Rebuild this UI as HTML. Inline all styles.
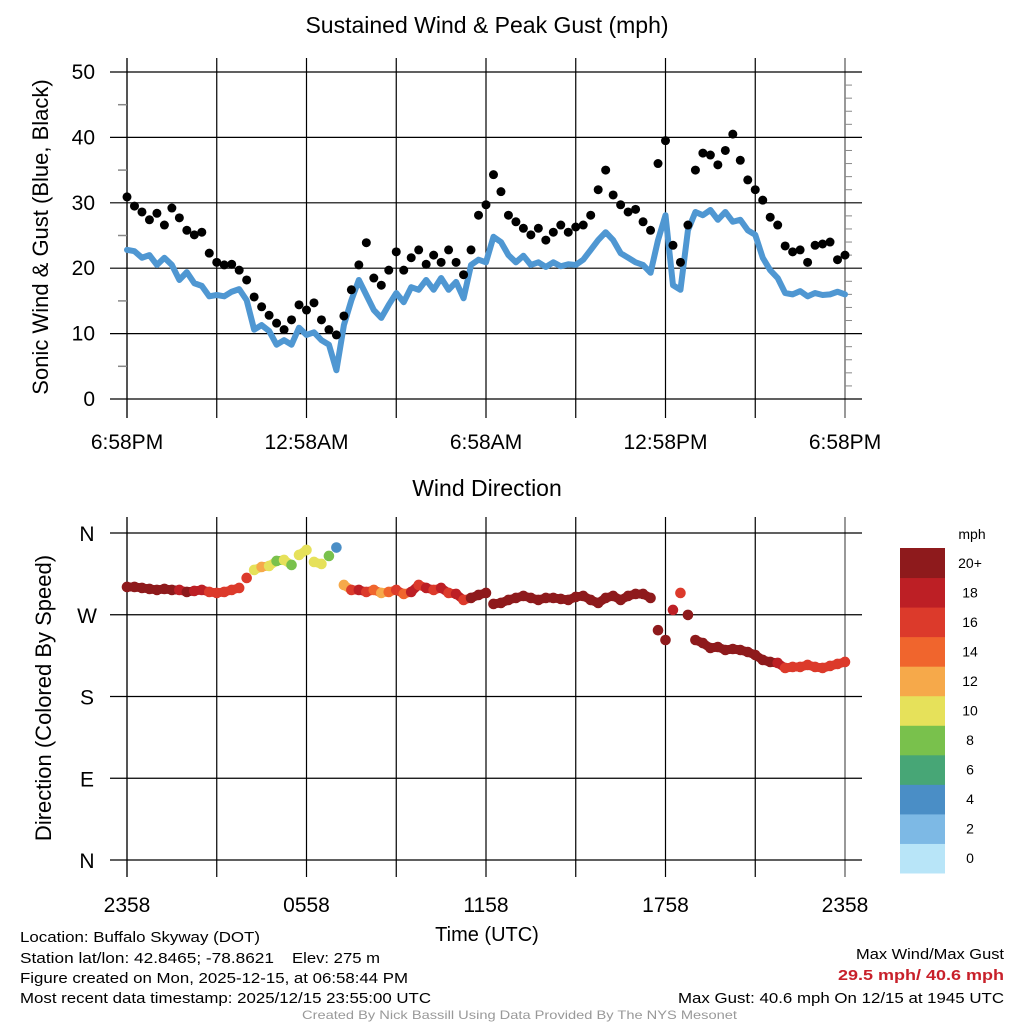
<!DOCTYPE html>
<html><head><meta charset="utf-8"><style>
html,body{margin:0;padding:0;background:#fff}
svg{display:block;font-family:"Liberation Sans",sans-serif}
</style></head><body>
<svg id="chart" width="1024" height="1024" viewBox="0 0 1024 1024" xmlns="http://www.w3.org/2000/svg">
<rect width="1024" height="1024" fill="#fff"/>
<g id="grid"></g>
<g id="marks"></g>
<g id="labels" font-size="21" fill="#000">
<text x="487" y="33" text-anchor="middle" font-size="23">Sustained Wind &amp; Peak Gust (mph)</text>
<text transform="translate(48,237) rotate(-90)" text-anchor="middle" font-size="22">Sonic Wind &amp; Gust (Blue, Black)</text>
<text x="487" y="496" text-anchor="middle" font-size="23">Wind Direction</text>
<text transform="translate(51,698) rotate(-90)" text-anchor="middle" font-size="22">Direction (Colored By Speed)</text>
<text x="487" y="941" text-anchor="middle" font-size="20">Time (UTC)</text>
<text x="972" y="539" text-anchor="middle" font-size="14">mph</text>
</g>
<g id="footer" font-size="15" fill="#000">
<text x="20" y="942" textLength="240" lengthAdjust="spacingAndGlyphs">Location: Buffalo Skyway (DOT)</text>
<text x="20" y="963" textLength="254" lengthAdjust="spacingAndGlyphs">Station lat/lon: 42.8465; -78.8621</text>
<text x="292" y="963" textLength="88" lengthAdjust="spacingAndGlyphs">Elev: 275 m</text>
<text x="20" y="983" textLength="388" lengthAdjust="spacingAndGlyphs">Figure created on Mon, 2025-12-15, at 06:58:44 PM</text>
<text x="20" y="1003" textLength="411" lengthAdjust="spacingAndGlyphs">Most recent data timestamp: 2025/12/15 23:55:00 UTC</text>
<text x="1004" y="959" text-anchor="end" textLength="148" lengthAdjust="spacingAndGlyphs">Max Wind/Max Gust</text>
<text x="1004" y="980" text-anchor="end" fill="#c8202a" font-weight="bold" textLength="166" lengthAdjust="spacingAndGlyphs">29.5 mph/ 40.6 mph</text>
<text x="1004" y="1003" text-anchor="end" textLength="326" lengthAdjust="spacingAndGlyphs">Max Gust: 40.6 mph On 12/15 at 1945 UTC</text>
<text x="302" y="1019" font-size="12" fill="#999" textLength="435" lengthAdjust="spacingAndGlyphs">Created By Nick Bassill Using Data Provided By The NYS Mesonet</text>
</g>
</svg>
<script>
const sustained=[22.8,22.6,21.6,22,20.5,21.6,20.5,18.2,19.4,17.7,17.3,15.7,15.9,15.7,16.4,16.8,15.1,10.6,11.3,10.4,8.3,9,8.3,10.9,9.8,10.2,9,8.3,4.4,11.3,15.1,18.2,15.9,13.6,12.4,14.4,16.2,14.8,17.1,16.7,18.2,16.7,18.5,16.7,17.9,15.4,20.5,21.3,20.9,24.8,24,22,20.9,21.9,20.5,20.9,20.2,20.9,20.3,20.6,20.5,21.3,22.8,24.3,25.5,24.3,22.3,21.6,20.9,20.5,19.3,24.3,28.1,17.4,16.7,25.8,28.6,28.1,28.9,27.4,28.6,27.1,27.4,25.8,25.1,21.6,19.7,18.5,16.2,16,16.5,15.7,16.2,15.9,16,16.4,16];
const gusts=[30.9,29.5,28.6,27.4,28.4,26.6,29.2,27.7,25.8,25.1,25.5,22.3,20.9,20.5,20.6,19.7,18.2,15.6,14.1,12.8,11.6,10.6,12.1,14.4,13.6,14.7,12.1,10.6,9.8,12.7,16.7,20.5,23.9,18.5,17.4,19.7,22.5,19.7,21.6,22.8,20.6,22,20.9,22.8,20.9,19,22.8,28.1,29.7,34.3,31.7,28.1,27.1,26.1,25.1,26.1,24.3,25.5,26.6,25.5,26.3,26.6,28.1,32,35,31.2,29.7,28.6,29,27.1,25.8,36,39.5,23.5,20.9,26.6,35,37.6,37.3,35.8,38,40.5,36.5,33.5,32,30.4,27.8,26.6,23.4,22.5,22.8,20.9,23.5,23.7,24,21.3,22];
const direction=[300.6,300.6,299.5,298.4,297.3,298.4,297.3,297.3,295.1,296.2,297.3,295.1,294,295.1,297.3,299.5,310.5,319.3,322.6,323.7,329.2,330.3,324.8,335.8,341.3,328.1,325.9,334.7,344,302.8,297.3,297.3,295.1,297.3,294,295.1,297.3,292.9,295.1,302.8,299.5,297.3,299.5,294,292.9,286.3,288.5,291.8,294,281.9,283,286.3,288.5,290.7,288.5,286.3,288.5,288.5,287.4,286.3,289.6,290.7,286.3,283,288.5,290.7,286.3,290.7,292.9,292.9,288.5,253,242.2,275.3,294,269.8,242.2,238.8,233.4,234.5,231.2,232.3,231.2,229,225.7,220.2,218,216.9,211.4,212.5,212.5,214.7,212.5,211.4,213.6,215.8,218];
const topTicks=[0,10,20,30,40,50];
const timeLabelsTop=["6:58PM","12:58AM","6:58AM","12:58PM","6:58PM"];
const timeLabelsBot=["2358","0558","1158","1758","2358"];
const dirTicks=[0,90,180,270,360];
const dirLabels=["N","E","S","W","N"];
const cbLabels=["0","2","4","6","8","10","12","14","16","18","20+"];
const cbColors=["#b8e5f8","#7db9e5","#4a8ec6","#47a676","#79c14c","#e6e15a","#f6a94a","#f0652d","#dc3a2b","#bd1f25","#8e1a1c"];

const NS="http://www.w3.org/2000/svg";
const X0=127,X1=845,N=sustained.length-1;
const xs=i=>X0+(X1-X0)*i/N;
const ySpd=v=>399-v*(399-72)/50;
const yDir=d=>860-d*(860-533)/360;
const grid=document.getElementById('grid'),marks=document.getElementById('marks'),labels=document.getElementById('labels');
function mk(tag,attrs,parent){const e=document.createElementNS(NS,tag);for(const k in attrs)e.setAttribute(k,attrs[k]);parent.appendChild(e);return e;}
const step=(X1-X0)/8;
for(let k=0;k<=8;k++){const x=X0+k*step;
 const l=mk('line',{x1:x,x2:x,y1:58,y2:418,stroke:k==0||k==8?'#555':'#000','stroke-width':k==0?2:1.2},grid);
 
 
 const l2=mk('line',{x1:x,x2:x,y1:517,y2:877,stroke:k==0||k==8?'#555':'#000','stroke-width':k==0?2:1.2},grid);
 
 
}
topTicks.forEach(v=>{const y=ySpd(v);
 const l=mk('line',{x1:110,x2:862,y1:y,y2:y,stroke:'#000','stroke-width':1.2},grid);
 
 
 const t=mk('text',{x:95,y:y+7,'text-anchor':'end'},labels);t.textContent=v;
 
 
});
for(let v=5;v<50;v+=10){const y=ySpd(v);mk('line',{x1:118,x2:127,y1:y,y2:y,stroke:'#888','stroke-width':1.5},grid);}
for(let v=2;v<50;v+=2){if(v%10==0)continue;const y=ySpd(v);mk('line',{x1:845,x2:852,y1:y,y2:y,stroke:'#888','stroke-width':1},grid);}
timeLabelsTop.forEach((s,k)=>{const t=mk('text',{x:X0+k*2*step,y:449,'text-anchor':'middle'},labels);t.textContent=s;
 
 });
dirTicks.forEach((d,k)=>{const y=yDir(d);
 const l=mk('line',{x1:110,x2:862,y1:y,y2:y,stroke:'#000','stroke-width':1.2},grid);
 
 
 const t=mk('text',{x:87,y:y+8,'text-anchor':'middle'},labels);t.textContent=dirLabels[k];
 
 });
timeLabelsBot.forEach((s,k)=>{const t=mk('text',{x:X0+k*2*step,y:912,'text-anchor':'middle'},labels);t.textContent=s;
 
 });
const p=mk('polyline',{points:sustained.map((v,i)=>xs(i)+','+ySpd(v)).join(' '),fill:'none',stroke:'#4f97d2','stroke-width':6,'stroke-linejoin':'round','stroke-linecap':'round'},marks);


gusts.forEach((v,i)=>{const c=mk('circle',{cx:xs(i),cy:ySpd(v),r:4.5,fill:'#000'},marks);
 
 });
const colorFor=s=>cbColors[Math.max(0,Math.min(10,Math.round(s/2)))];
const dpts=direction.map((d,i)=>xs(i)+','+yDir(d)).join(' ');
direction.forEach((d,i)=>{
 if(i<N){const l=mk('line',{x1:xs(i),y1:yDir(d),x2:xs(i+1),y2:yDir(direction[i+1]),stroke:colorFor(sustained[i]),'stroke-width':9,'stroke-linecap':'round','opacity':Math.abs(direction[i+1]-d)<8?1:0},marks);
 
 }
});
direction.forEach((d,i)=>{const c=mk('circle',{cx:xs(i),cy:yDir(d),r:5.3,fill:colorFor(sustained[i])},marks);
 
 });
const cbTop=548,cbH=325/11;
cbColors.forEach((col,i)=>{const y=cbTop+(10-i)*cbH;
 const r=mk('rect',{x:900,y:y,width:45,height:cbH+0.5,fill:col},marks);
 
 
 const t=mk('text',{x:970,y:y+cbH/2+5,'text-anchor':'middle','font-size':14},labels);t.textContent=cbLabels[i];
 
 });
</script>
</body></html>
